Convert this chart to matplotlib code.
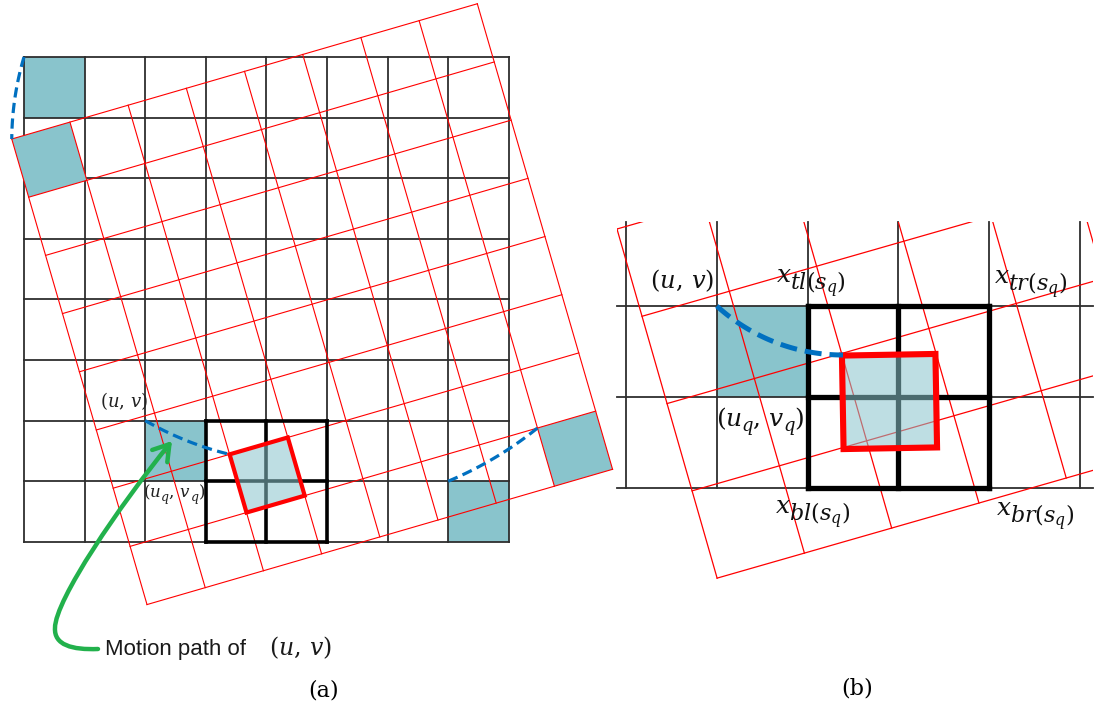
import numpy as np
import matplotlib
matplotlib.use("Agg")
import matplotlib.pyplot as plt
from matplotlib.patches import Polygon, Rectangle, FancyArrowPatch
from matplotlib.path import Path

plt.rcParams['mathtext.fontset'] = 'dejavuserif'

# ---------------- parameters (pixel space of the 1094x711 picture) -------------
W, H = 1094, 711
# panel (a)
a_origin = (24.0, 57.0)          # top-left of black grid
a_cell = 60.6
a_n = 8
a_rot_center = (306.0, 141.0)    # rotation centre of the red grid
a_rot_deg = 16.2
a_teal_cells = [(0, 0), (7, 7), (2, 6)]     # (col, row) moved cells
a_thick_block = (3, 6)                      # 2x2 block, top-left cell
a_highlight = (2, 6)                        # cell shown as thick red square
# label pieces: (text, size, baseline offset)
a_labels = [
    (100, 407, [(r"$(u,\,v)$", 13, 0)]),
    (143, 497, [(r"$(u$", 12, 0), (r"$q$", 9, 4), (r"$,\,v$", 12, 0), (r"$q$", 9, 4), (r"$)$", 12, 0)]),
]
# panel (b)
b_black_origin = (626.0, 306.0)
b_cell = 90.8
b_vlines = 6
b_hlines = 3
b_clip = (617.0, 222.0, 1093.0, 700.0)
b_red_origin = (617.0, 229.0)
b_red_deg = 16.0
b_red_rows = 4
b_red_cols = 8
b_teal_cell = (1, 0)
b_thick_block = (2, 0)
b_square_center = (889.5, 401.5)
b_square_size = 93.5
b_square_deg = 1.0
b_arc_start = (716.8, 306.0)
b_arc_end = (843.0, 355.0)
b_labels = [
    (650, 288, [(r"$(u,\,v)$", 17.5, 0)]),
    (776, 282, [(r"$x$", 18, 0), (r"$tl(s_q)$", 16, 8)]),
    (994, 283, [(r"$x$", 18, 0), (r"$tr(s_q)$", 16, 8)]),
    (716, 426, [(r"$(u$", 18, 0), (r"$q$", 13, 5), (r"$,\,v$", 18, 0), (r"$q$", 13, 5), (r"$)$", 18, 0)]),
    (775, 513, [(r"$x$", 18, 0), (r"$bl(s_q)$", 16, 8)]),
    (996, 515, [(r"$x$", 18, 0), (r"$br(s_q)$", 16, 8)]),
]

TEAL = '#89c4cc'
RED = '#ff0000'
BLUE = '#0070c0'
GREEN = '#22b14c'
GRID = '#2e2e2e'

fig = plt.figure(figsize=(W / 100, H / 100), dpi=100)
ax = fig.add_axes([0, 0, 1, 1])
ax.set_xlim(0, W)
ax.set_ylim(H, 0)
ax.axis('off')
renderer = fig.canvas.get_renderer()


def rot(p, c, deg):
    t = np.deg2rad(deg)
    x, y = p[0] - c[0], p[1] - c[1]
    return (c[0] + x * np.cos(t) + y * np.sin(t),
            c[1] - x * np.sin(t) + y * np.cos(t))


def bpt(i, j):
    return (a_origin[0] + i * a_cell, a_origin[1] + j * a_cell)


def rpt(i, j):
    return rot(bpt(i, j), a_rot_center, a_rot_deg)


def cell_poly(f, i, j):
    return [f(i, j), f(i + 1, j), f(i + 1, j + 1), f(i, j + 1)]


def piece_text(x, y, pieces, color='#1a1a1a', kern=1.5):
    for s, size, dy in pieces:
        t = ax.text(x, y + dy, s, fontsize=size, ha='left', va='baseline',
                    color=color, zorder=9)
        x += t.get_window_extent(renderer=renderer).width - kern


# ---------------- panel (a) ----------------
for (i, j) in a_teal_cells[:2] + [a_highlight]:
    ax.add_patch(Polygon(cell_poly(bpt, i, j), closed=True, fc=TEAL, ec='none', zorder=1))
for k in range(a_n + 1):
    p0, p1 = bpt(k, 0), bpt(k, a_n)
    ax.plot([p0[0], p1[0]], [p0[1], p1[1]], color=GRID, lw=1.3, zorder=2)
    p0, p1 = bpt(0, k), bpt(a_n, k)
    ax.plot([p0[0], p1[0]], [p0[1], p1[1]], color=GRID, lw=1.3, zorder=2)
for (i, j) in a_teal_cells[:2]:
    ax.add_patch(Polygon(cell_poly(rpt, i, j), closed=True, fc=TEAL, ec='none', zorder=2.5))
for k in range(a_n + 1):
    p0, p1 = rpt(k, 0), rpt(k, a_n)
    ax.plot([p0[0], p1[0]], [p0[1], p1[1]], color=RED, lw=0.8, zorder=3)
    p0, p1 = rpt(0, k), rpt(a_n, k)
    ax.plot([p0[0], p1[0]], [p0[1], p1[1]], color=RED, lw=0.8, zorder=3)
ti, tj = a_thick_block
for k in range(3):
    p0, p1 = bpt(ti + k, tj), bpt(ti + k, tj + 2)
    ax.plot([p0[0], p1[0]], [p0[1], p1[1]], color='black', lw=2.6, zorder=4,
            solid_capstyle='projecting')
    p0, p1 = bpt(ti, tj + k), bpt(ti + 2, tj + k)
    ax.plot([p0[0], p1[0]], [p0[1], p1[1]], color='black', lw=2.6, zorder=4,
            solid_capstyle='projecting')
hi, hj = a_highlight
ax.add_patch(Polygon(cell_poly(rpt, hi, hj), closed=True, fc=TEAL, alpha=0.55, ec='none', zorder=5))
ax.add_patch(Polygon(cell_poly(rpt, hi, hj), closed=True, fc='none', ec=RED, lw=3.0,
                     joinstyle='miter', zorder=6))
for (i, j) in a_teal_cells:
    phis = np.linspace(0, a_rot_deg, 40)
    pts = np.array([rot(bpt(i, j), a_rot_center, ph) for ph in phis])
    ax.plot(pts[:, 0], pts[:, 1], color=BLUE, lw=2.3, dashes=(3.2, 1.7), zorder=7)

for x, y, pieces in a_labels:
    piece_text(x, y, pieces, color='#222222', kern=1.0)

# green arrow
verts = [(98, 649), (72, 650), (54, 645), (55, 628),
         (55, 600), (120, 505), (172, 441)]
codes = [Path.MOVETO, Path.CURVE4, Path.CURVE4, Path.CURVE4,
         Path.CURVE4, Path.CURVE4, Path.CURVE4]
arrow = FancyArrowPatch(path=Path(verts, codes), arrowstyle='->,head_length=0.55,head_width=0.35',
                        mutation_scale=20, color=GREEN, lw=3.2, zorder=8)
ax.add_patch(arrow)
ax.text(105, 649, "Motion path of", fontsize=16, family='Liberation Sans',
        ha='left', va='center', color='#1a1a1a', zorder=9)
ax.text(269, 655, r"$(u,\,v)$", fontsize=17, ha='left', va='baseline',
        color='#1a1a1a', zorder=9)
ax.text(324, 691, "(a)", fontsize=16, family='DejaVu Serif', ha='center', va='center')

# ---------------- panel (b) ----------------
clip = Rectangle((b_clip[0], b_clip[1]), b_clip[2] - b_clip[0], b_clip[3] - b_clip[1],
                 transform=ax.transData, fc='none', ec='none')


def bb(i, j):
    return (b_black_origin[0] + i * b_cell, b_black_origin[1] + j * b_cell)


ax.add_patch(Polygon(cell_poly(bb, *b_teal_cell), closed=True, fc=TEAL, ec='none', zorder=1))
y_bottom = bb(0, b_hlines - 1)[1]
for k in range(b_vlines):
    x = bb(k, 0)[0]
    ax.plot([x, x], [b_clip[1], y_bottom], color=GRID, lw=1.3, zorder=2)
for k in range(b_hlines):
    y = bb(0, k)[1]
    ax.plot([b_clip[0], b_clip[2]], [y, y], color=GRID, lw=1.3, zorder=2)

t = np.deg2rad(b_red_deg)
u = b_cell * np.array([np.cos(t), -np.sin(t)])
v = b_cell * np.array([np.sin(t), np.cos(t)])
o = np.array(b_red_origin)
for k in range(b_red_cols + 1):
    p0, p1 = o + k * u, o + k * u + b_red_rows * v
    ln, = ax.plot([p0[0], p1[0]], [p0[1], p1[1]], color=RED, lw=0.9, zorder=3)
    ln.set_clip_path(clip)
for j in range(b_red_rows + 1):
    p0, p1 = o + j * v, o + j * v + b_red_cols * u
    ln, = ax.plot([p0[0], p1[0]], [p0[1], p1[1]], color=RED, lw=0.9, zorder=3)
    ln.set_clip_path(clip)

ti, tj = b_thick_block
for k in range(3):
    p0, p1 = bb(ti + k, tj), bb(ti + k, tj + 2)
    ax.plot([p0[0], p1[0]], [p0[1], p1[1]], color='black', lw=3.8, zorder=4,
            solid_capstyle='projecting')
    p0, p1 = bb(ti, tj + k), bb(ti + 2, tj + k)
    ax.plot([p0[0], p1[0]], [p0[1], p1[1]], color='black', lw=3.8, zorder=4,
            solid_capstyle='projecting')

hs = b_square_size / 2
sq = [rot((b_square_center[0] + dx, b_square_center[1] + dy), b_square_center, b_square_deg)
      for dx, dy in [(-hs, -hs), (hs, -hs), (hs, hs), (-hs, hs)]]
ax.add_patch(Polygon(sq, closed=True, fc=TEAL, alpha=0.55, ec='none', zorder=5))
ax.add_patch(Polygon(sq, closed=True, fc='none', ec=RED, lw=4.4, joinstyle='miter', zorder=6))

# arc in (b): circle with centre straight above the end point
sx, sy = b_arc_start
ex, ey = b_arc_end
yc = ((ey ** 2) - (sx - ex) ** 2 - sy ** 2) / (2 * (ey - sy))
r = ey - yc
a0 = np.arctan2(sy - yc, sx - ex)
a1 = np.pi / 2
angs = np.linspace(a0, a1, 60)
ax.plot(ex + r * np.cos(angs), yc + r * np.sin(angs), color=BLUE, lw=3.6,
        dashes=(3.4, 1.6), zorder=7)

for x, y, pieces in b_labels:
    piece_text(x, y, pieces, color='#111111', kern=1.5)
ax.text(857, 689, "(b)", fontsize=16, family='DejaVu Serif', ha='center', va='center')

fig.savefig('out.png', dpi=100)
